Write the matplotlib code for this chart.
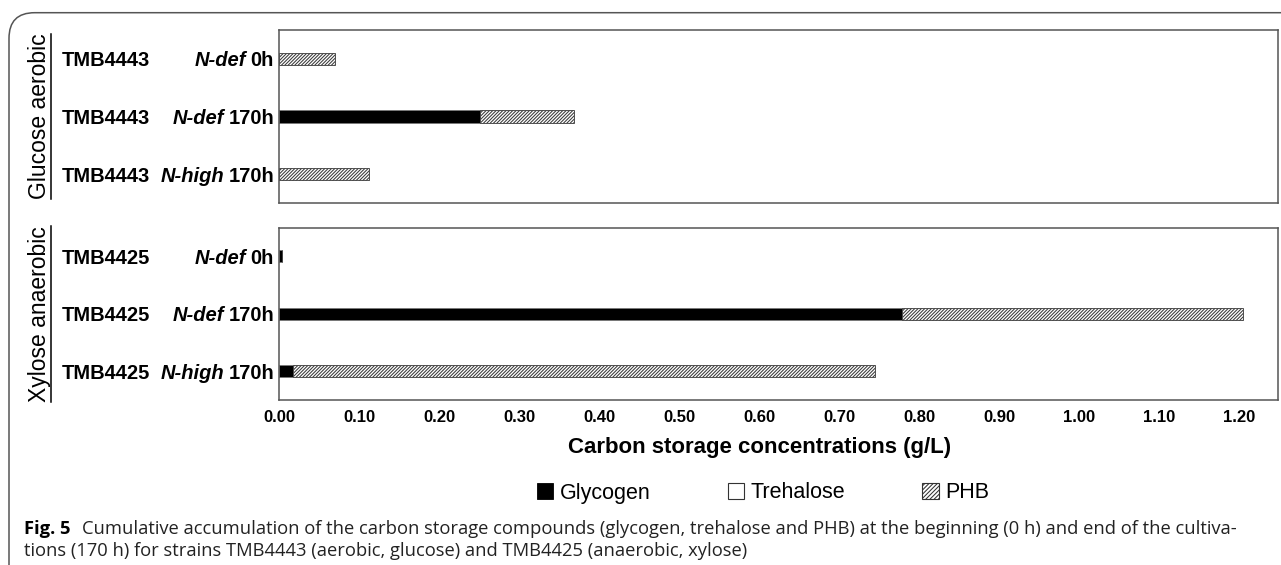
import matplotlib
matplotlib.use("Agg")
import matplotlib.pyplot as plt
from matplotlib import font_manager
from matplotlib.patches import Patch, FancyBboxPatch
from matplotlib.lines import Line2D
import numpy as np

# ---------------- data ----------------
groups = ["Glucose aerobic", "Xylose anaerobic"]
strains_top = ["TMB4443", "TMB4443", "TMB4443"]
strains_bot = ["TMB4425", "TMB4425", "TMB4425"]
conditions = ["N-def", "N-def", "N-high"]
times = ["0h", "170h", "170h"]

glycogen_top = [0.0, 0.251, 0.0]
trehalose_top = [0.0, 0.0, 0.0]
phb_top = [0.070, 0.118, 0.113]

glycogen_bot = [0.004, 0.778, 0.017]
trehalose_bot = [0.0, 0.0, 0.0]
phb_bot = [0.0, 0.426, 0.728]

xticks = [0.0, 0.1, 0.2, 0.3, 0.4, 0.5, 0.6, 0.7, 0.8, 0.9, 1.0, 1.1, 1.2]
xlabel = "Carbon storage concentrations (g/L)"
legend_labels = ["Glycogen", "Trehalose", "PHB"]
caption_bold = "Fig. 5"
caption_line1 = ("Cumulative accumulation of the carbon storage compounds (glycogen, trehalose and PHB) "
                 "at the beginning (0 h) and end of the cultiva-")
caption_line2 = "tions (170 h) for strains TMB4443 (aerobic, glucose) and TMB4425 (anaerobic, xylose)"

# ---------------- fonts ----------------
names = {f.name for f in font_manager.fontManager.ttflist}
if "Liberation Sans Narrow" in names:
    tick_font, tick_size = "Liberation Sans Narrow", 13
else:
    tick_font, tick_size = "Liberation Sans", 12
main_font = "Liberation Sans"
cap_font = "Open Sans" if "Open Sans" in names else "DejaVu Sans"
plt.rcParams["font.family"] = main_font
plt.rcParams["hatch.linewidth"] = 0.75

W, H = 1281, 565
fig = plt.figure(figsize=(W / 100, H / 100), dpi=100)
fig.patch.set_facecolor("white")

def fx(px):
    return px / W

def fy(py):
    return 1 - py / H

# frame with rounded corner
frame = FancyBboxPatch((fx(9), fy(H + 40)), fx(W + 100), (H + 40 - 12.7) / H,
                       boxstyle="round,pad=0,rounding_size=0.02",
                       transform=fig.transFigure, facecolor="none",
                       edgecolor="#555555", linewidth=1.1, mutation_aspect=W / H)
fig.patches.append(frame)

ax_left, ax_right = 279, 1278
panels = [(30, 203), (227.5, 400)]
axes = []
for (t, b) in panels:
    ax = fig.add_axes([fx(ax_left), fy(b), fx(ax_right - ax_left), (b - t) / H])
    axes.append(ax)

data = [(glycogen_top, trehalose_top, phb_top, strains_top),
        (glycogen_bot, trehalose_bot, phb_bot, strains_bot)]

bar_h = 0.21
fig.canvas.draw()
renderer = fig.canvas.get_renderer()

for i, (ax, (gly, tre, phb, strains)) in enumerate(zip(axes, data)):
    y = np.arange(len(gly))
    gly = np.array(gly); tre = np.array(tre); phb = np.array(phb)
    ax.barh(y, gly, height=bar_h, color="black", edgecolor="#777777", linewidth=0.5)
    ax.barh(y, tre, left=gly, height=bar_h, color="white", linewidth=0)
    ax.barh(y, phb, left=gly + tre, height=bar_h, color="white", edgecolor="#3a3a3a",
            hatch="//////////", linewidth=0.6)
    ax.set_xlim(0, 1.248)
    ax.set_ylim(2.5, -0.5)
    ax.set_yticks([])
    ax.set_xticks(xticks)
    ax.tick_params(axis="x", length=0, pad=7)
    if i == 1:
        ax.set_xticklabels([f"{v:.2f}" for v in xticks], fontfamily=tick_font,
                           fontweight="bold", fontsize=tick_size)
    else:
        ax.set_xticklabels([])
    for s in ax.spines.values():
        s.set_color("#555555")
        s.set_linewidth(1.1)

    # category labels
    trans = matplotlib.transforms.blended_transform_factory(fig.transFigure, ax.transData)
    for k in range(len(strains)):
        ax.text(fx(62), k, strains[k], transform=trans, ha="left", va="center_baseline",
                fontsize=14.5, fontweight="bold")
        tt = ax.text(fx(274), k, times[k], transform=trans, ha="right",
                     va="center_baseline", fontsize=14.5, fontweight="bold")
        w = tt.get_window_extent(renderer).width
        ax.text(fx(274 - w - 4), k, conditions[k], transform=trans, ha="right",
                va="center_baseline", fontsize=14.5, fontweight="bold", fontstyle="italic")

    # group label (rotated, underlined)
    t, b = panels[i]
    gt = fig.text(fx(46), fy((t + b) / 2), groups[i], rotation=90, rotation_mode="anchor",
                  ha="center", va="baseline", fontsize=16.5)
    bb = gt.get_window_extent(renderer)
    fig.add_artist(Line2D([fx(50.5), fx(50.5)], [bb.y0 / H, bb.y1 / H],
                          transform=fig.transFigure, color="black", linewidth=1.1))

# x label
fig.text(fx(760), fy(448), xlabel, ha="center", va="center", fontsize=16,
         fontweight="bold")

# legend
handles = [Patch(facecolor="black", edgecolor="black", linewidth=0.6),
           Patch(facecolor="white", edgecolor="#333333", linewidth=0.8),
           Patch(facecolor="white", edgecolor="#333333", hatch="////////", linewidth=0.8)]
fig.legend(handles, legend_labels, loc="center", bbox_to_anchor=(fx(763), fy(493)),
           ncol=3, frameon=False, fontsize=15.5, handlelength=0.75, handleheight=0.75,
           handletextpad=0.3, columnspacing=3.6, borderpad=0, borderaxespad=0)

# caption
fs0 = 12
cb = fig.text(fx(24), fy(527), caption_bold, ha="left", va="center_baseline",
              fontsize=fs0, fontweight="bold", fontfamily=cap_font)
c1 = fig.text(fx(24), fy(527), caption_line1, ha="left", va="center_baseline",
              fontsize=fs0, fontfamily=cap_font, color="#222222")
c2 = fig.text(fx(24), fy(549), caption_line2, ha="left", va="center_baseline",
              fontsize=fs0, fontfamily=cap_font, color="#222222")
fig.canvas.draw()
wb = cb.get_window_extent(renderer).width
w1 = c1.get_window_extent(renderer).width
gap = 10
target = 1234 - 24
scale = target / (wb + gap + w1)
fs = fs0 * scale
for c in (cb, c1, c2):
    c.set_fontsize(fs)
fig.canvas.draw()
wb = cb.get_window_extent(renderer).width
c1.set_position((fx(24 + wb + gap * scale), fy(527)))

fig.savefig("out.png", dpi=100, facecolor="white")
